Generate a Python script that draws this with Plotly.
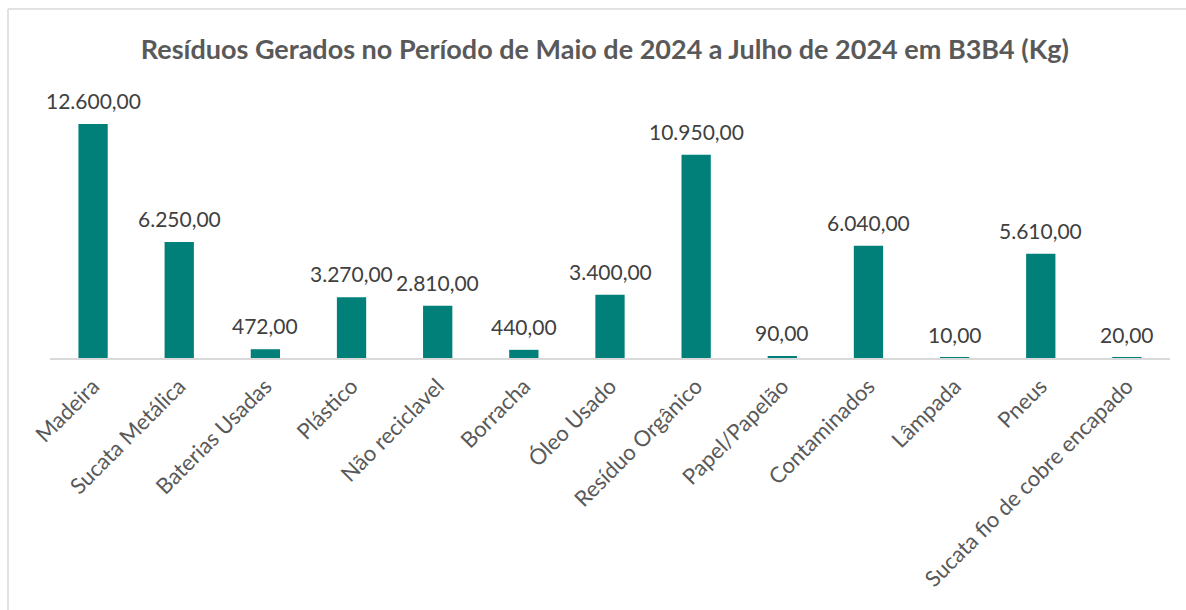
import plotly.graph_objects as go

categorias = [
    "Madeira", "Sucata Metálica", "Baterias Usadas", "Plástico", "Não reciclavel",
    "Borracha", "Óleo Usado", "Resíduo Orgânico", "Papel/Papelão", "Contaminados",
    "Lâmpada", "Pneus", "Sucata fio de cobre encapado",
]
quantidades_kg = [12600, 6250, 472, 3270, 2810, 440, 3400, 10950, 90, 6040, 10, 5610, 20]

titulo = "Resíduos Gerados no Período de Maio de 2024 a Julho de 2024 em B3B4 (Kg)"

FONTE = "Lato, 'Open Sans', sans-serif"
W, H = 1186, 610
ML, MR, MT, MB = 50, 16, 98, 252


def formata_br(v):
    """Número no formato brasileiro: 12.600,00"""
    s = f"{v:,.2f}"
    return s.replace(",", "X").replace(".", ",").replace("X", ".")


fig = go.Figure(
    go.Bar(
        x=categorias,
        y=quantidades_kg,
        marker=dict(color="#008078", line=dict(width=0)),
        width=0.34,
        hovertemplate="%{x}: %{y:,.2f}<extra></extra>",
    )
)

# rótulos de valor acima de cada barra
for cat, val in zip(categorias, quantidades_kg):
    fig.add_annotation(
        x=cat, y=val, xref="x", yref="y",
        text=formata_br(val), showarrow=False,
        yanchor="bottom", yshift=9,
        font=dict(family=FONTE, size=21, color="#404040"),
    )

# moldura do gráfico (bordas superior e esquerda)
pw, ph = W - ML - MR, H - MT - MB
def px_x(v):
    return (v - ML) / pw
def px_y(v):
    return (H - MB - v) / ph

fig.add_shape(type="line", xref="paper", yref="paper",
              x0=px_x(8), x1=px_x(W + 5), y0=px_y(9), y1=px_y(9),
              line=dict(color="#d9d9d9", width=1.5))
fig.add_shape(type="line", xref="paper", yref="paper",
              x0=px_x(8), x1=px_x(8), y0=px_y(9), y1=px_y(H + 5),
              line=dict(color="#d9d9d9", width=1.5))

fig.update_layout(
    width=W, height=H,
    margin=dict(l=ML, r=MR, t=MT, b=MB, autoexpand=False),
    paper_bgcolor="white", plot_bgcolor="white",
    separators=",.",
    showlegend=False,
    title=dict(
        text=f"<b>{titulo}</b>",
        x=0.51, xanchor="center", y=1 - 50 / H, yanchor="middle",
        font=dict(family=FONTE, size=27, color="#595959"),
    ),
    xaxis=dict(
        range=[-0.5, len(categorias) - 0.5],
        tickangle=-45,
        tickfont=dict(family=FONTE, size=22, color="#595959"),
        ticklabelstandoff=5,
        automargin=False,
        showline=True, linecolor="#d9d9d9", linewidth=1.5,
        ticks="", showgrid=False,
    ),
    yaxis=dict(
        range=[0, 14000], visible=False, showgrid=False, zeroline=False,
        automargin=False,
    ),
)

fig.write_html("out.html")
